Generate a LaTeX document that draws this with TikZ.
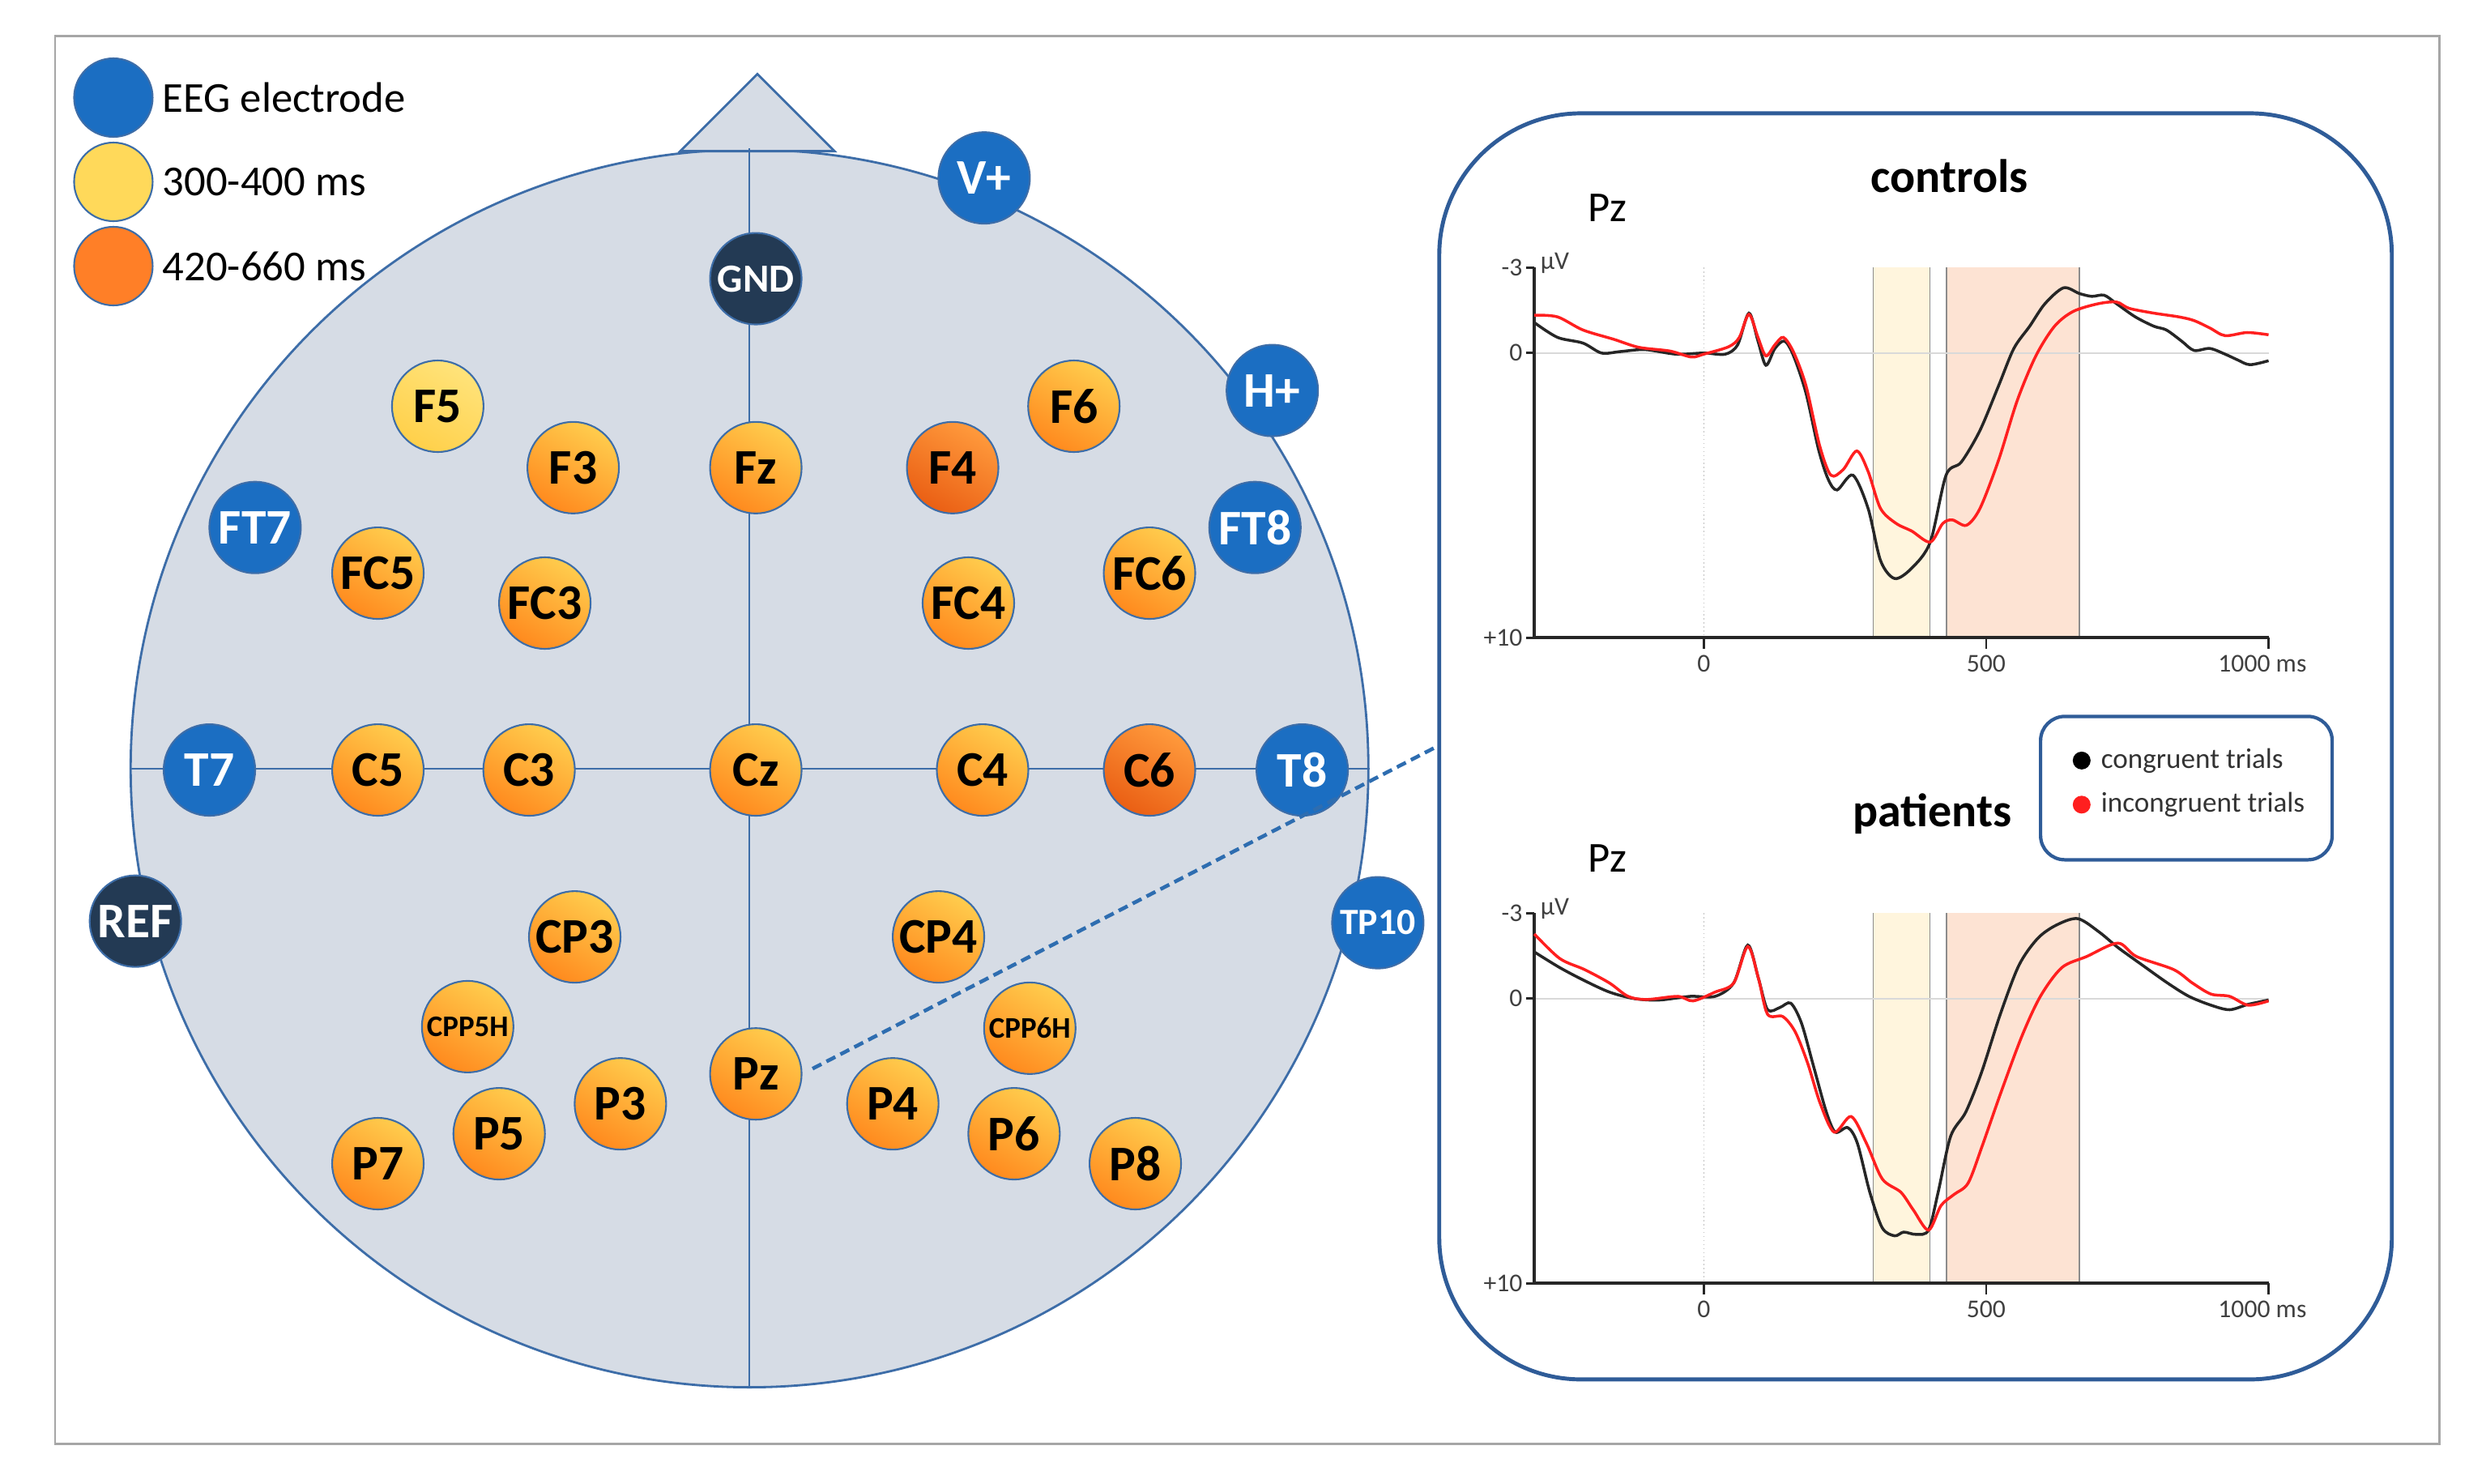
\documentclass[tikz,border=0pt]{standalone}
\usepackage{fontspec}
\setmainfont{Carlito}
\usetikzlibrary{positioning}
\definecolor{headfill}{HTML}{D6DCE5}
\definecolor{headline}{HTML}{3D6DA8}
\definecolor{eegblue}{HTML}{1B6EC2}
\definecolor{refnavy}{HTML}{233A54}
\definecolor{latehi}{HTML}{FFCC4D}
\definecolor{latelo}{HTML}{FF8A1E}
\definecolor{peakhi}{HTML}{FF9A3C}
\definecolor{peaklo}{HTML}{EA5F14}
\definecolor{earlyhi}{HTML}{FFE37A}
\definecolor{earlylo}{HTML}{FFD04A}
\definecolor{legyellow}{HTML}{FFD95A}
\definecolor{legorange}{HTML}{FF7F27}
\definecolor{panelline}{HTML}{2F5C98}
\definecolor{linkblue}{HTML}{2E6DB0}
\definecolor{yband}{HTML}{FFF5DD}
\definecolor{oband}{HTML}{FDE3D3}
\definecolor{ergred}{HTML}{FF1F1F}

\begin{document}
\begin{tikzpicture}[x=0.01944cm, y=-0.01944cm,
	elec/.style={circle, minimum size=1.13cm, inner sep=0pt, draw=headline, line width=0.6pt,
		font=\bfseries\fontsize{17.5}{18}\selectfont},
	eeg/.style={elec, fill=eegblue, text=white},
	ground/.style={elec, fill=refnavy, text=white},
	early/.style={elec, top color=earlyhi, bottom color=earlylo, shading angle=-30},
	late/.style={elec, top color=latehi, bottom color=latelo, shading angle=-30},
	peak/.style={elec, top color=peakhi, bottom color=peaklo, shading angle=-30},
	smalllab/.style={font=\bfseries\fontsize{10.5}{11}\selectfont},
	legdot/.style={elec, minimum size=0.97cm},
	legtext/.style={inner sep=0pt, font=\fontsize{15}{17}\selectfont},
	ticklab/.style={inner sep=1pt, text=black!75, font=\fontsize{9}{10}\selectfont},
	title/.style={font=\bfseries\fontsize{16.5}{18}\selectfont},
	chan/.style={font=\fontsize{15}{17}\selectfont}]
	\useasboundingbox (0,0) rectangle (1568,942);
	\draw[black!35, line width=0.8pt] (35,23) rectangle (1549,917);
	% head
	\node[circle, fill=headfill, draw=headline, line width=0.8pt, minimum size=15.28cm, inner sep=0pt] (head) at (476,488) {};
	\filldraw[fill=headfill, draw=headline, line width=0.8pt] (432,96) -- (481,47) -- (530,96) -- cycle;
	\draw[headline, line width=0.6pt] (head.north) -- (head.south);
	\draw[headline, line width=0.6pt] (head.west) -- (head.east);
	% legend
	\node[legdot, fill=eegblue] (legeeg) at (72,62) {};
	\node[legtext, right=3pt of legeeg] (legeegtxt) {EEG electrode};
	\node[legdot, fill=legyellow] (legearly) at (72,115.5) {};
	\node[legtext, right=3pt of legearly] (legearlytxt) {300-400 ms};
	\node[legdot, fill=legorange] (leglate) at (72,169) {};
	\node[legtext, right=3pt of leglate] (leglatetxt) {420-660 ms};
	% electrodes
	\node[ground, font=\bfseries\fontsize{14}{15}\selectfont] (GND) at (480,177) {GND};
	\node[eeg] (Vp) at (625,113) {V+};
	\node[eeg] (Hp) at (808,248) {H+};
	\node[early] (F5) at (278,258) {F5};
	\node[late] (F3) at (364,297) {F3};
	\node[late] (Fz) at (480,297) {Fz};
	\node[peak] (F4) at (605,297) {F4};
	\node[late] (F6) at (682,258) {F6};
	\node[eeg] (FT7) at (162,335) {FT7};
	\node[late] (FC5) at (240,364) {FC5};
	\node[late] (FC3) at (346,383) {FC3};
	\node[late] (FC4) at (615,383) {FC4};
	\node[late] (FC6) at (730,364) {FC6};
	\node[eeg] (FT8) at (797,335) {FT8};
	\node[eeg] (T7) at (133,489) {T7};
	\node[late] (C5) at (240,489) {C5};
	\node[late] (C3) at (336,489) {C3};
	\node[late] (Cz) at (480,489) {Cz};
	\node[late] (C4) at (624,489) {C4};
	\node[peak] (C6) at (730,489) {C6};
	\node[eeg] (T8) at (827,489) {T8};
	\node[ground] (REF) at (86,585) {REF};
	\node[eeg, font=\bfseries\fontsize{13}{14}\selectfont] (TP10) at (875,586) {TP10};
	\node[late] (CP3) at (365,595) {CP3};
	\node[late] (CP4) at (596,595) {CP4};
	\node[late, smalllab] (CPP5H) at (297,652) {CPP5H};
	\node[late, smalllab] (CPP6H) at (654,653) {CPP6H};
	\node[late] (Pz) at (480,682) {Pz};
	\node[late] (P3) at (394,701) {P3};
	\node[late] (P4) at (567,701) {P4};
	\node[late] (P5) at (317,720) {P5};
	\node[late] (P6) at (644,720) {P6};
	\node[late] (P7) at (240,739) {P7};
	\node[late] (P8) at (721,739) {P8};
	% ERP panel
	\node[draw=panelline, line width=1.4pt, rounded corners=1.75cm, minimum width=11.76cm, minimum height=15.63cm] (panel) at (1216.5,474) {};
	\draw[linkblue, line width=1.3pt, dash pattern=on 3.5pt off 2pt, shorten <=4pt] (Pz.east) -- (panel.west);
	\foreach \yy in {224.2,634.2}{
		\begin{scope}[shift={(1082,\yy)}, x=0.006979cm, y=-0.3515cm]
			\fill[yband] (300,-3) rectangle (400,10);
			\fill[oband] (430,-3) rectangle (665,10);
			\draw[black!45, line width=0.4pt] (300,-3) -- (300,10) (400,-3) -- (400,10)
				(430,-3) -- (430,10) (665,-3) -- (665,10);
			\draw[black!15, line width=0.7pt] (-300,0) -- (1000,0);
			\draw[black!25, densely dotted, line width=0.4pt] (0,-3) -- (0,10);
			\draw[black!85, line width=1.1pt] (-300,-3) -- (-300,10) -- (1000,10);
			\draw[black!85, line width=0.8pt] (-300,-3) -- ++(-3pt,0) (-300,0) -- ++(-3pt,0)
				(-300,10) -- ++(-3pt,0) (0,10) -- ++(0,-4pt) (500,10) -- ++(0,-4pt) (1000,10) -- ++(0,-4pt);
			\node[ticklab, left=3pt] at (-300,-3) {-3};
			\node[ticklab, left=3pt] at (-300,0) {0};
			\node[ticklab, left=3pt] at (-300,10) {+10};
			\node[ticklab, anchor=west] at (-295,-3.15) {µV};
			\node[ticklab, below=5pt] at (0,10) {0};
			\node[ticklab, below=5pt] at (500,10) {500};
			\node[ticklab, below=5pt] at (989,10) {1000 ms};
		\end{scope}
	}
	% controls
	\begin{scope}[shift={(1082,224.2)}, x=0.006979cm, y=-0.3515cm, line width=1pt]
		\draw[black!85] plot[smooth, tension=0.5] coordinates {(-300,-1.07) (-259,-0.55) (-214,-0.35) (-181,0) (-148,-0.05) (-104,-0.12) (-49,0.04) (0,0) (38,0.04) (60,-0.29) (80,-1.4) (96,-0.42) (110,0.43) (126,-0.16) (143,-0.42) (159,0.1) (181,1.41) (203,3.37) (220,4.42) (236,4.81) (264,4.29) (291,5.46) (313,7.29) (338,7.92) (368,7.56) (401,6.64) (429,4.29) (456,3.83) (489,2.72) (522,1.15) (549,-0.16) (577,-0.94) (604,-1.73) (637,-2.29) (665,-2.09) (687,-1.99) (709,-2.03) (731,-1.73) (764,-1.27) (797,-0.94) (819,-0.81) (846,-0.42) (868,-0.09) (896,-0.16) (923,0.04) (945,0.24) (967,0.41) (1000,0.27)};
		\draw[ergred] plot[smooth, tension=0.5] coordinates {(-300,-1.33) (-259,-1.27) (-214,-0.81) (-159,-0.48) (-115,-0.2) (-60,-0.07) (-22,0.14) (0,0.04) (44,-0.22) (63,-0.55) (80,-1.36) (96,-0.55) (110,0.1) (126,-0.29) (141,-0.55) (159,-0.03) (181,1.15) (205,3.24) (225,4.29) (247,4.09) (271,3.44) (291,4.16) (313,5.46) (341,5.99) (368,6.25) (401,6.64) (423,5.99) (440,5.86) (465,6.05) (489,5.46) (522,3.76) (555,1.67) (588,0.1) (621,-0.94) (654,-1.46) (698,-1.73) (731,-1.79) (753,-1.57) (797,-1.40) (841,-1.27) (868,-1.14) (896,-0.88) (923,-0.61) (962,-0.72) (1000,-0.64)};
	\end{scope}
	% patients
	\begin{scope}[shift={(1082,634.2)}, x=0.006979cm, y=-0.3515cm, line width=1pt]
		\draw[black!85] plot[smooth, tension=0.5] coordinates {(-300,-1.64) (-255,-1.09) (-211,-0.63) (-167,-0.23) (-123,0) (-79,0.05) (-24,-0.08) (20,-0.08) (53,-0.55) (78,-1.88) (97,-0.7) (113,0.39) (135,0.31) (154,0.16) (173,0.86) (195,2.42) (217,3.98) (233,4.69) (255,4.53) (272,5.08) (294,6.80) (316,8.05) (338,8.33) (354,8.2) (376,8.28) (398,8.13) (415,6.8) (437,4.84) (464,3.98) (492,2.58) (525,0.55) (558,-1.17) (591,-2.11) (624,-2.58) (662,-2.81) (700,-2.34) (733,-1.80) (777,-1.17) (821,-0.55) (859,-0.08) (898,0.23) (931,0.39) (964,0.2) (1000,0.05)};
		\draw[ergred] plot[smooth, tension=0.5] coordinates {(-300,-2.27) (-255,-1.41) (-211,-1.02) (-167,-0.55) (-134,-0.08) (-101,0.03) (-46,-0.08) (-19,0.08) (20,-0.23) (53,-0.55) (78,-1.83) (97,-0.7) (113,0.55) (140,0.63) (162,1.17) (184,2.27) (206,3.67) (231,4.69) (261,4.14) (288,5.08) (316,6.33) (349,6.8) (371,7.42) (398,8.13) (420,7.27) (443,6.88) (468,6.48) (492,5.23) (525,3.36) (563,1.33) (596,-0.08) (634,-1.09) (678,-1.48) (733,-1.95) (766,-1.48) (832,-1.02) (865,-0.55) (898,-0.16) (931,-0.08) (964,0.23) (1000,0.08)};
	\end{scope}
	\node[title] (ctrltitle) at (1238,112) {controls};
	\node[chan] (ctrlpz) at (1021,132) {Pz};
	\node[title] (pattitle) at (1227,517) {patients};
	\node[chan] (patpz) at (1021,545) {Pz};
	% trial legend
	\node[draw=panelline, line width=1.2pt, rounded corners=0.3cm, minimum width=3.6cm, minimum height=1.77cm] (trialbox) at (1388.5,500.5) {};
	\node[circle, fill=black, minimum size=0.22cm, inner sep=0pt] (congrdot) at (1322,483) {};
	\node[anchor=west, inner sep=0pt, text=black!80, font=\fontsize{10}{11}\selectfont] (congr) at (1334,483) {congruent trials};
	\node[circle, fill=ergred, minimum size=0.22cm, inner sep=0pt] (incongrdot) at (1322,511) {};
	\node[anchor=west, inner sep=0pt, text=black!80, font=\fontsize{10}{11}\selectfont] (incongr) at (1334,511) {incongruent trials};
\end{tikzpicture}
\end{document}
